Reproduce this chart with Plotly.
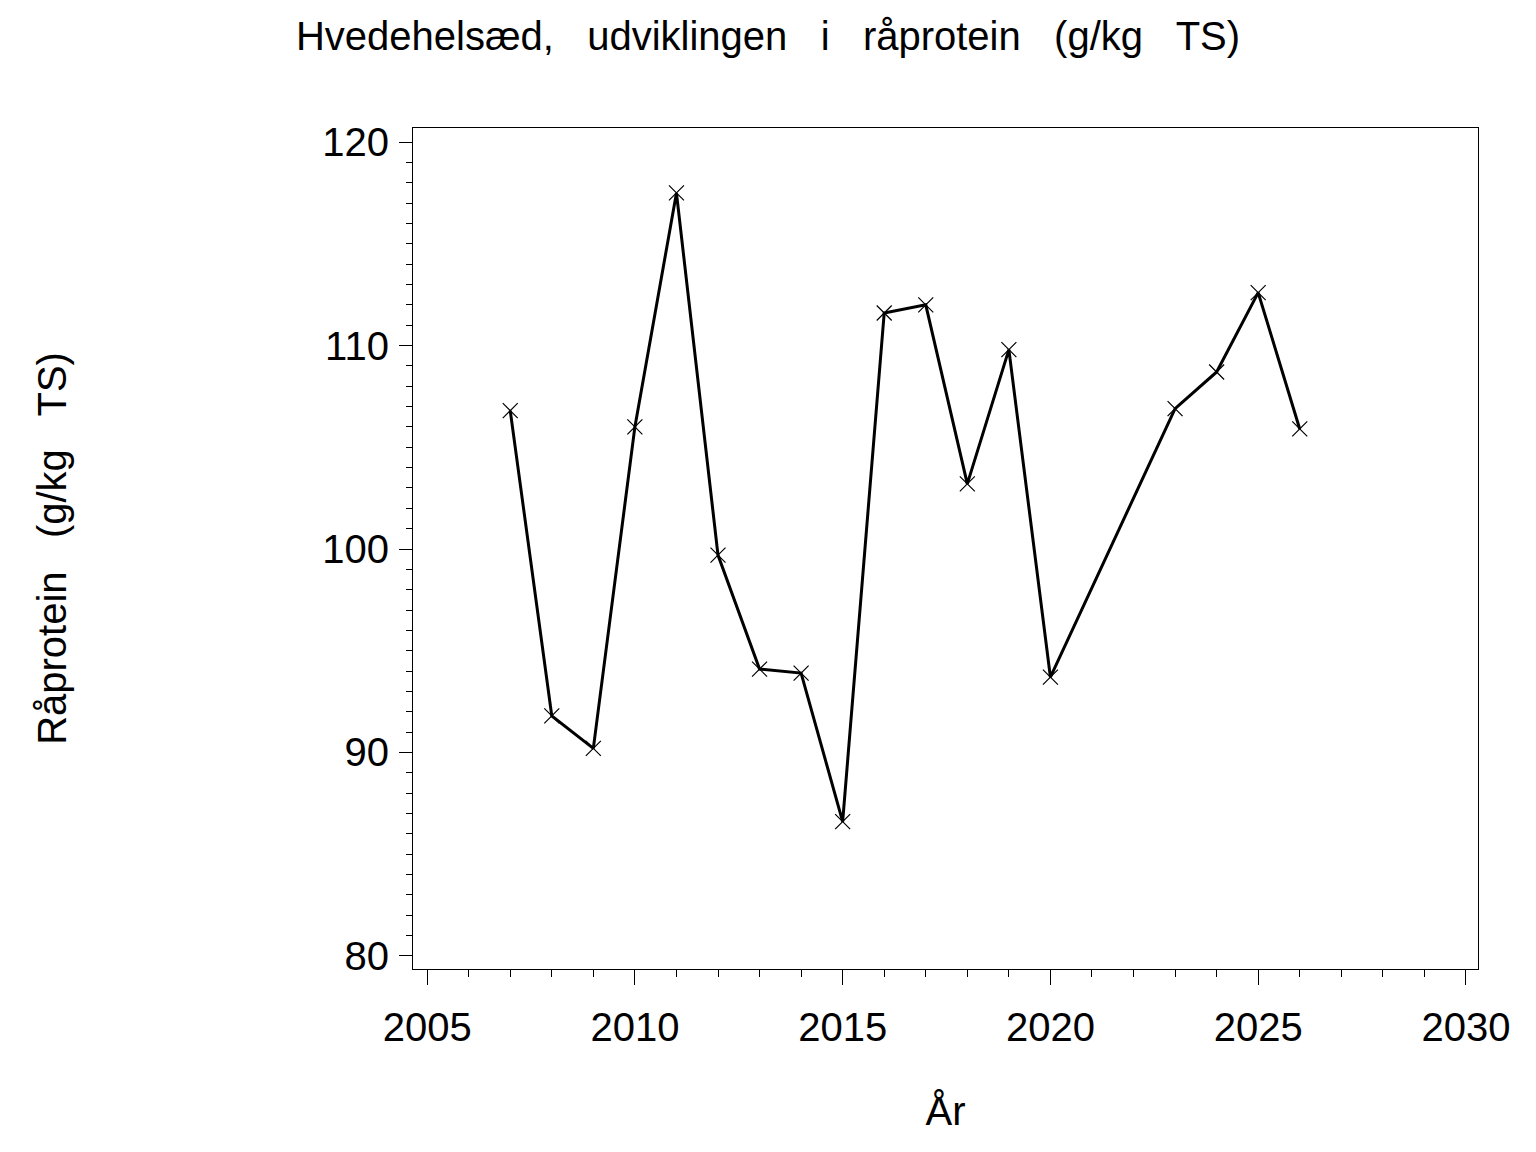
import plotly.graph_objects as go

# Hvedehelsæd - råprotein (g/kg TS) pr. år
years = [2007, 2008, 2009, 2010, 2011, 2012, 2013, 2014, 2015, 2016,
         2017, 2018, 2019, 2020, 2023, 2024, 2025, 2026]
protein = [106.8, 91.8, 90.2, 106.0, 117.5, 99.7, 94.1, 93.9, 86.6, 111.6,
           112.0, 103.2, 109.8, 93.7, 106.9, 108.7, 112.6, 105.9]

x_ticks = [2005, 2010, 2015, 2020, 2025, 2030]
y_ticks = [80, 90, 100, 110, 120]

SP = "\u00a0\u00a0 "  # SAS-agtig bred ordafstand
title_txt = SP.join(["Hvedehelsæd,", "udviklingen", "i", "råprotein", "(g/kg", "TS)"])
ytitle_txt = SP.join(["Råprotein", "(g/kg", "TS)"])

FONT = "Liberation Sans, Arial, sans-serif"

# siden har 8px body-margen, så figuren gøres tilsvarende mindre
W, H = 1528, 1144

fig = go.Figure()

fig.add_trace(
    go.Scatter(
        x=years,
        y=protein,
        mode="lines+markers",
        line=dict(color="black", width=3),
        marker=dict(symbol="x-thin-open", size=15,
                    line=dict(color="black", width=1.2), color="black"),
        showlegend=False,
        hovertemplate="%{x}: %{y:.1f}<extra></extra>",
    )
)

axis_common = dict(
    showgrid=False,
    zeroline=False,
    showline=True,
    linecolor="black",
    linewidth=1.2,
    mirror=True,
    ticks="outside",
    tickcolor="black",
    tickwidth=1.2,
    tickfont=dict(family=FONT, size=40, color="black"),
)

fig.update_layout(
    width=W,
    height=H,
    paper_bgcolor="white",
    plot_bgcolor="white",
    font=dict(family=FONT, size=40, color="black"),
    margin=dict(l=405, r=58, t=120, b=183),
    title=dict(
        text=title_txt,
        x=(768 - 8) / W,
        xref="container",
        xanchor="center",
        y=1 - 28 / H,
        yref="container",
        yanchor="middle",
        font=dict(family=FONT, size=40, color="black"),
    ),
    xaxis=dict(
        axis_common,
        range=[2004.66, 2030.29],
        tickmode="array",
        tickvals=x_ticks,
        ticklen=15,
        ticklabelstandoff=8,
        minor=dict(dtick=1, tick0=2005, ticks="outside", ticklen=7,
                   tickcolor="black", tickwidth=1.2),
        title=dict(text="År", standoff=48,
                   font=dict(family=FONT, size=40, color="black")),
    ),
    yaxis=dict(
        axis_common,
        range=[79.36, 120.69],
        tickmode="array",
        tickvals=y_ticks,
        ticklen=13,
        ticklabelstandoff=2,
        minor=dict(dtick=1, tick0=80, ticks="outside", ticklen=6,
                   tickcolor="black", tickwidth=1.2),
        title=dict(text=ytitle_txt, standoff=243,
                   font=dict(family=FONT, size=40, color="black")),
    ),
)

fig.write_html("out.html")
